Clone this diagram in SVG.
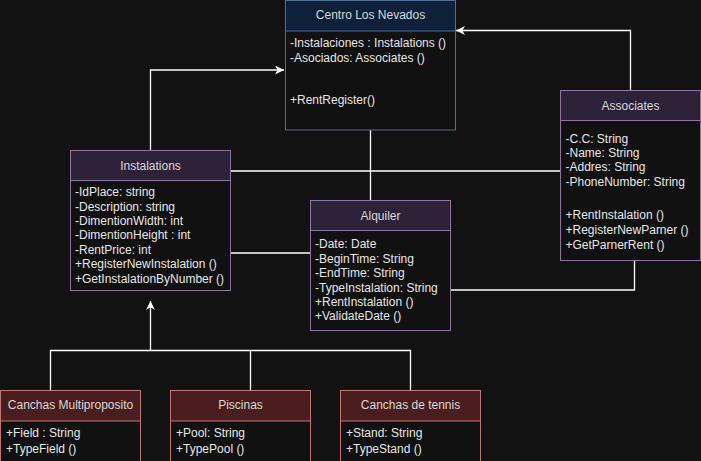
<svg xmlns="http://www.w3.org/2000/svg" width="701" height="461" viewBox="0 0 701 461">
<defs>
<marker id="arr" viewBox="0 0 10 10" refX="10" refY="5" markerWidth="9" markerHeight="9" markerUnits="userSpaceOnUse" orient="auto">
<path d="M0,0 L10,5 L0,10 L3,5 Z" fill="#ffffff"/>
</marker>
<style>
text{font-family:"Liberation Sans",Arial,sans-serif;font-size:12px;fill:#e6e6e6}
.t{text-anchor:middle;fill:#d8d8d8}
.conn{fill:none;stroke:#ffffff;stroke-width:1.3}
.blue .h{fill:#0f213a;stroke:#4e6f96}
.blue .b{fill:#111111;stroke:#4e6f96}
.pur .h{fill:#2e2239;stroke:#8f74a3}
.pur .b{fill:#111111;stroke:#8f74a3}
.red .h{fill:#4a1e1e;stroke:#c47474}
.red .b{fill:#111111;stroke:#c47474}
</style>
</defs>
<rect width="701" height="461" fill="#121212"/>
<g id="connectors">
<polyline class="conn" points="150.5,150 150.5,70 284,70" marker-end="url(#arr)"/>
<polyline class="conn" points="630.5,90 630.5,30.5 456,30.5" marker-end="url(#arr)"/>
<line class="conn" x1="370.5" y1="130" x2="370.5" y2="200"/>
<line class="conn" x1="230" y1="171" x2="560" y2="171"/>
<line class="conn" x1="230" y1="253" x2="310" y2="253"/>
<polyline class="conn" points="450,290 634.5,290 634.5,260"/>
<line class="conn" x1="150.5" y1="350.5" x2="150.5" y2="301" marker-end="url(#arr)"/>
<polyline class="conn" points="50.5,390 50.5,350.5 410.5,350.5 410.5,390"/>
<line class="conn" x1="250.5" y1="350.5" x2="250.5" y2="390"/>
</g>
<g id="centro" class="blue">
<rect class="b" x="285.5" y="0.5" width="170" height="129.5"/>
<rect class="h" x="285.5" y="0.5" width="170" height="30.5"/>
<text class="t" x="370.5" y="19">Centro Los Nevados</text>
<text x="290" y="47">-Instalaciones : Instalations ()</text>
<text x="290" y="62">-Asociados: Associates ()</text>
<text x="290" y="104">+RentRegister()</text>
</g>
<g id="instalations" class="pur">
<rect class="b" x="70.5" y="150.5" width="160" height="140"/>
<rect class="h" x="70.5" y="150.5" width="160" height="30"/>
<text class="t" x="150.5" y="169.5">Instalations</text>
<text x="75" y="196">-IdPlace: string</text>
<text x="75" y="210.5">-Description: string</text>
<text x="75" y="225">-DimentionWidth: int</text>
<text x="75" y="239.3">-DimentionHeight : int</text>
<text x="75" y="254">-RentPrice: int</text>
<text x="75" y="268">+RegisterNewInstalation ()</text>
<text x="75" y="282.5">+GetInstalationByNumber ()</text>
</g>
<g id="alquiler" class="pur">
<rect class="b" x="310.5" y="200.5" width="140" height="130"/>
<rect class="h" x="310.5" y="200.5" width="140" height="30"/>
<text class="t" x="380.5" y="219.5">Alquiler</text>
<text x="315" y="248.3">-Date: Date</text>
<text x="315" y="262.6">-BeginTime: String</text>
<text x="315" y="277">-EndTime: String</text>
<text x="315" y="291.5">-TypeInstalation: String</text>
<text x="315" y="306">+RentInstalation ()</text>
<text x="315" y="320">+ValidateDate ()</text>
</g>
<g id="associates" class="pur">
<rect class="b" x="560.5" y="90.5" width="140" height="170"/>
<rect class="h" x="560.5" y="90.5" width="140" height="30"/>
<text class="t" x="630.5" y="109.5">Associates</text>
<text x="565.5" y="142.6">-C.C: String</text>
<text x="565.5" y="157">-Name: String</text>
<text x="565.5" y="171.3">-Addres: String</text>
<text x="565.5" y="186">-PhoneNumber: String</text>
<text x="565.5" y="219.3">+RentInstalation ()</text>
<text x="565.5" y="233.6">+RegisterNewParner ()</text>
<text x="565.5" y="248.5">+GetParnerRent ()</text>
</g>
<g id="canchas-multi" class="red">
<rect class="b" x="0.5" y="390.5" width="140" height="75"/>
<rect class="h" x="0.5" y="390.5" width="140" height="30.5"/>
<text class="t" x="70.5" y="409">Canchas Multiproposito</text>
<text x="6" y="437">+Field : String</text>
<text x="6" y="452.5">+TypeField ()</text>
</g>
<g id="piscinas" class="red">
<rect class="b" x="170.5" y="390.5" width="140" height="75"/>
<rect class="h" x="170.5" y="390.5" width="140" height="30.5"/>
<text class="t" x="240.5" y="409">Piscinas</text>
<text x="176" y="437">+Pool: String</text>
<text x="176" y="452.5">+TypePool ()</text>
</g>
<g id="canchas-tennis" class="red">
<rect class="b" x="340.5" y="390.5" width="140" height="75"/>
<rect class="h" x="340.5" y="390.5" width="140" height="30.5"/>
<text class="t" x="410.5" y="409">Canchas de tennis</text>
<text x="346" y="437">+Stand: String</text>
<text x="346" y="452.5">+TypeStand ()</text>
</g>
</svg>
